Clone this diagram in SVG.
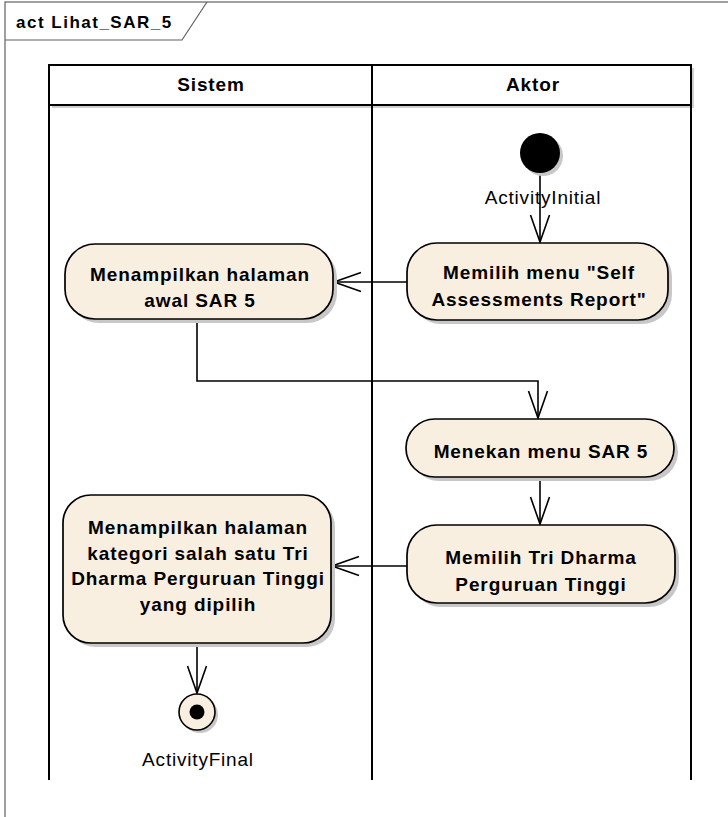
<svg xmlns="http://www.w3.org/2000/svg" width="728" height="817" viewBox="0 0 728 817">
<defs>
<style>
.frame{fill:none;stroke:#606060;stroke-width:1.2}
.lane{fill:none;stroke:#000;stroke-width:2}
.node{fill:#F9EFE1;stroke:#000;stroke-width:1.7}
.shadow{fill:#C8C8C8;stroke:none}
.edge{fill:none;stroke:#000;stroke-width:1.6}
.bt{font-family:"Liberation Sans",Arial,sans-serif;font-weight:bold;font-size:19px;letter-spacing:0.9px;text-anchor:middle;fill:#000}
.lt{font-family:"Liberation Sans",Arial,sans-serif;font-size:19px;letter-spacing:0.8px;text-anchor:middle;fill:#000}
.title{font-family:"Liberation Sans",Arial,sans-serif;font-weight:bold;font-size:17px;letter-spacing:1.5px;fill:#000}
</style>
<marker id="arr" markerUnits="userSpaceOnUse" markerWidth="40" markerHeight="30" viewBox="-30 -15 40 30" refX="0" refY="0" orient="auto">
<path d="M -27 -9.5 L 0 0 L -27 9.5" fill="none" stroke="#000" stroke-width="1.6"/>
</marker>
</defs>
<rect width="728" height="817" fill="#fff"/>
<g id="frame">
<rect class="frame" x="5" y="2" width="740" height="830"/>
<path class="frame" d="M5 40 L182 40 L207 2"/>
<text class="title" x="16" y="28">act Lihat_SAR_5</text>
</g>
<g id="swimlanes">
<rect x="52" y="68" width="642" height="40" fill="#D0D0D0"/>
<rect x="49" y="65" width="642" height="40" fill="#fff" stroke="#000" stroke-width="2"/>
<line class="lane" x1="372" y1="65" x2="372" y2="780"/>
<line class="lane" x1="49" y1="105" x2="49" y2="780"/>
<line class="lane" x1="691" y1="105" x2="691" y2="780"/>
<text class="bt" x="211" y="91">Sistem</text>
<text class="bt" x="533" y="91">Aktor</text>
</g>
<g id="connectors">
<path class="edge" d="M540 173 L540 242" marker-end="url(#arr)"/>
<path class="edge" d="M407 282 L334 282" marker-end="url(#arr)"/>
<path class="edge" d="M197 319 L197 381 L538 381 L538 418" marker-end="url(#arr)"/>
<path class="edge" d="M540 477 L540 524" marker-end="url(#arr)"/>
<path class="edge" d="M407 566 L332 566" marker-end="url(#arr)"/>
<path class="edge" d="M197 643 L197 693" marker-end="url(#arr)"/>
</g>
<g id="initial">
<circle class="shadow" cx="543" cy="156" r="20"/>
<circle cx="540" cy="153" r="20" fill="#000"/>
<text class="lt" x="543" y="204">ActivityInitial</text>
</g>
<g id="memilih-menu">
<rect class="shadow" x="411" y="247" width="261" height="77" rx="30"/>
<rect class="node" x="407" y="243" width="261" height="77" rx="30"/>
<text class="bt" x="539" y="279">Memilih menu "Self</text>
<text class="bt" x="539" y="306">Assessments Report"</text>
</g>
<g id="menampilkan-awal">
<rect class="shadow" x="69" y="248" width="268" height="75" rx="30"/>
<rect class="node" x="65" y="244" width="268" height="75" rx="30"/>
<text class="bt" x="200" y="281">Menampilkan halaman</text>
<text class="bt" x="200" y="307">awal SAR 5</text>
</g>
<g id="menekan-menu">
<rect class="shadow" x="410" y="423" width="268" height="58" rx="29"/>
<rect class="node" x="406" y="419" width="268" height="58" rx="29"/>
<text class="bt" x="541" y="458">Menekan menu SAR 5</text>
</g>
<g id="memilih-tri-dharma">
<rect class="shadow" x="411" y="529" width="268" height="78" rx="30"/>
<rect class="node" x="407" y="525" width="268" height="78" rx="30"/>
<text class="bt" x="541" y="564">Memilih Tri Dharma</text>
<text class="bt" x="541" y="591">Perguruan Tinggi</text>
</g>
<g id="menampilkan-kategori">
<rect class="shadow" x="67" y="499" width="268" height="148" rx="28"/>
<rect class="node" x="63" y="495" width="268" height="148" rx="28"/>
<text class="bt" x="198" y="534">Menampilkan halaman</text>
<text class="bt" x="198" y="560">kategori salah satu Tri</text>
<text class="bt" x="198" y="585">Dharma Perguruan Tinggi</text>
<text class="bt" x="198" y="611">yang dipilih</text>
</g>
<g id="final">
<circle class="shadow" cx="200" cy="715" r="18"/>
<circle cx="197" cy="712" r="18" fill="#F9EFE1" stroke="#000" stroke-width="1.6"/>
<circle cx="197" cy="712" r="7.5" fill="#000"/>
<text class="lt" x="198" y="766">ActivityFinal</text>
</g>
</svg>
